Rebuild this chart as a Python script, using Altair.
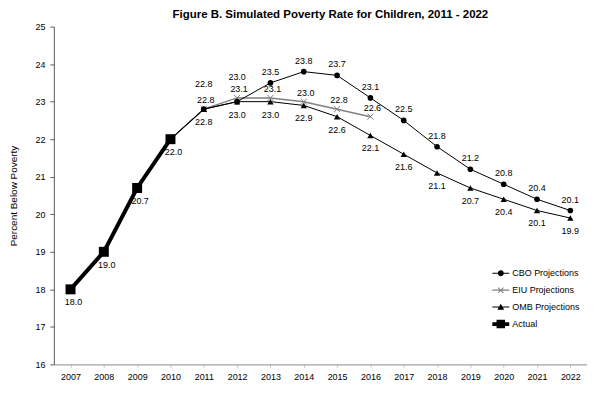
import altair as alt
import pandas as pd

FONT = "Liberation Sans"

years = [str(y) for y in range(2007, 2023)]

actual_years = ["2007", "2008", "2009", "2010"]
actual_vals = [18.0, 19.0, 20.7, 22.0]

cbo_years = [str(y) for y in range(2010, 2023)]
cbo_vals = [22.0, 22.8, 23.0, 23.5, 23.8, 23.7, 23.1, 22.5, 21.8, 21.2, 20.8, 20.4, 20.1]

eiu_years = [str(y) for y in range(2010, 2017)]
eiu_vals = [22.0, 22.8, 23.1, 23.1, 23.0, 22.8, 22.6]

omb_years = [str(y) for y in range(2010, 2023)]
omb_vals = [22.0, 22.8, 23.0, 23.0, 22.9, 22.6, 22.1, 21.6, 21.1, 20.7, 20.4, 20.1, 19.9]

series_names = ["CBO Projections", "EIU Projections", "OMB Projections", "Actual"]
series_colors = ["#000000", "#808080", "#000000", "#000000"]

rows = []
for name, ys, vs in [
    ("CBO Projections", cbo_years, cbo_vals),
    ("EIU Projections", eiu_years, eiu_vals),
    ("OMB Projections", omb_years, omb_vals),
    ("Actual", actual_years, actual_vals),
]:
    for y, v in zip(ys, vs):
        rows.append({"year": y, "value": v, "series": name, "yr": int(y)})
df = pd.DataFrame(rows)

x_enc = alt.X("year:O", scale=alt.Scale(domain=years),
              axis=alt.Axis(title=None, labelAngle=0, labelFont=FONT, labelFontSize=9,
                            labelColor="#000", domainColor="#8c8c8c", tickColor="#c8c8c8",
                            tickSize=3, labelPadding=5))
y_enc = alt.Y("value:Q", scale=alt.Scale(domain=[16, 25], nice=False, zero=False),
              axis=alt.Axis(values=list(range(16, 26)), labelOverlap=False,
                            title="Percent Below Poverty",
                            titleFont=FONT, titleFontSize=10, titleFontWeight="normal",
                            titleColor="#000", titleX=-40, titleY=169.5, titleAngle=-90,
                            titleBaseline="middle", titleAlign="center",
                            labelFont=FONT, labelFontSize=9, labelColor="#000",
                            domainColor="#595959", tickColor="#595959", tickSize=4,
                            labelPadding=5, minExtent=46, maxExtent=46))

base = alt.Chart(df).encode(x=x_enc, y=y_enc)


def sel(name, min_year=None):
    c = base.transform_filter(alt.datum.series == name)
    if min_year is not None:
        c = c.transform_filter(alt.datum.yr >= min_year)
    return c


layers = []
# lines
layers.append(sel("EIU Projections").mark_line(color="#808080", strokeWidth=1.5))
layers.append(sel("OMB Projections").mark_line(color="#000000", strokeWidth=1))
layers.append(sel("CBO Projections").mark_line(color="#000000", strokeWidth=1))
layers.append(sel("Actual").mark_line(color="#000000", strokeWidth=4))
# markers
layers.append(sel("EIU Projections", 2011).mark_point(
    shape="M-1,-1L1,1M1,-1L-1,1", size=36, filled=False, stroke="#808080",
    strokeWidth=1, opacity=1))
layers.append(sel("OMB Projections", 2011).mark_point(
    shape="triangle-up", size=40, filled=True, color="#000000", opacity=1))
layers.append(sel("CBO Projections", 2011).mark_point(
    shape="circle", size=32, filled=True, color="#000000", opacity=1))
layers.append(sel("Actual").mark_point(
    shape="square", size=100, filled=True, color="#000000", opacity=1))

# data labels
txt = dict(font=FONT, fontSize=9, color="#000000")
layers.append(sel("CBO Projections", 2013).mark_text(dy=-11, **txt).encode(text=alt.Text("value:Q", format=".1f")))
layers.append(sel("CBO Projections", 2011).transform_filter(alt.datum.yr <= 2012)
              .mark_text(dy=-25, **txt).encode(text=alt.Text("value:Q", format=".1f")))
layers.append(sel("EIU Projections", 2011).mark_text(dy=-9, dx=2, **txt).encode(text=alt.Text("value:Q", format=".1f")))
layers.append(sel("OMB Projections", 2011).mark_text(dy=13, **txt).encode(text=alt.Text("value:Q", format=".1f")))
layers.append(sel("Actual").mark_text(dy=13, dx=3, **txt).encode(text=alt.Text("value:Q", format=".1f")))

# legend (symbols drawn as line + marker)
legend_paths = [
    "M-1,-0.06H1V0.06H-1Z M0.35,0A0.35,0.35 0 1,1 -0.35,0A0.35,0.35 0 1,1 0.35,0Z",
    "M-1,-0.08H1V0.08H-1Z M-0.35,-0.27L-0.27,-0.35L0.35,0.27L0.27,0.35Z M0.27,-0.35L0.35,-0.27L-0.27,0.35L-0.35,0.27Z",
    "M-1,-0.06H1V0.06H-1Z M0,-0.4L0.4,0.3L-0.4,0.3Z",
    "M-1,-0.22H1V0.22H-1Z M-0.5,-0.5H0.5V0.5H-0.5Z",
]
legend_layer = base.mark_point(filled=True, opacity=0).encode(
    shape=alt.Shape("series:N", scale=alt.Scale(domain=series_names, range=legend_paths),
                    legend=alt.Legend(title=None, orient="none", legendX=440, legendY=239,
                                      symbolSize=289, symbolOpacity=1, symbolStrokeWidth=0,
                                      labelFont=FONT, labelFontSize=9, labelColor="#000",
                                      labelOffset=3, rowPadding=3, padding=0)),
    color=alt.Color("series:N", scale=alt.Scale(domain=series_names, range=series_colors)),
)
layers.append(legend_layer)

chart = alt.layer(*layers).properties(
    width=535, height=339,
    title=alt.TitleParams("Figure B. Simulated Poverty Rate for Children, 2011 - 2022",
                          font=FONT, fontSize=11.5, fontWeight="bold", color="#000",
                          anchor="middle", dx=10, offset=2),
    padding={"left": 0, "top": 0, "right": 0, "bottom": 0},
).configure_view(stroke=None).configure_axis(grid=False)

chart.save("out.html", embed_options={"renderer": "svg", "actions": False})
